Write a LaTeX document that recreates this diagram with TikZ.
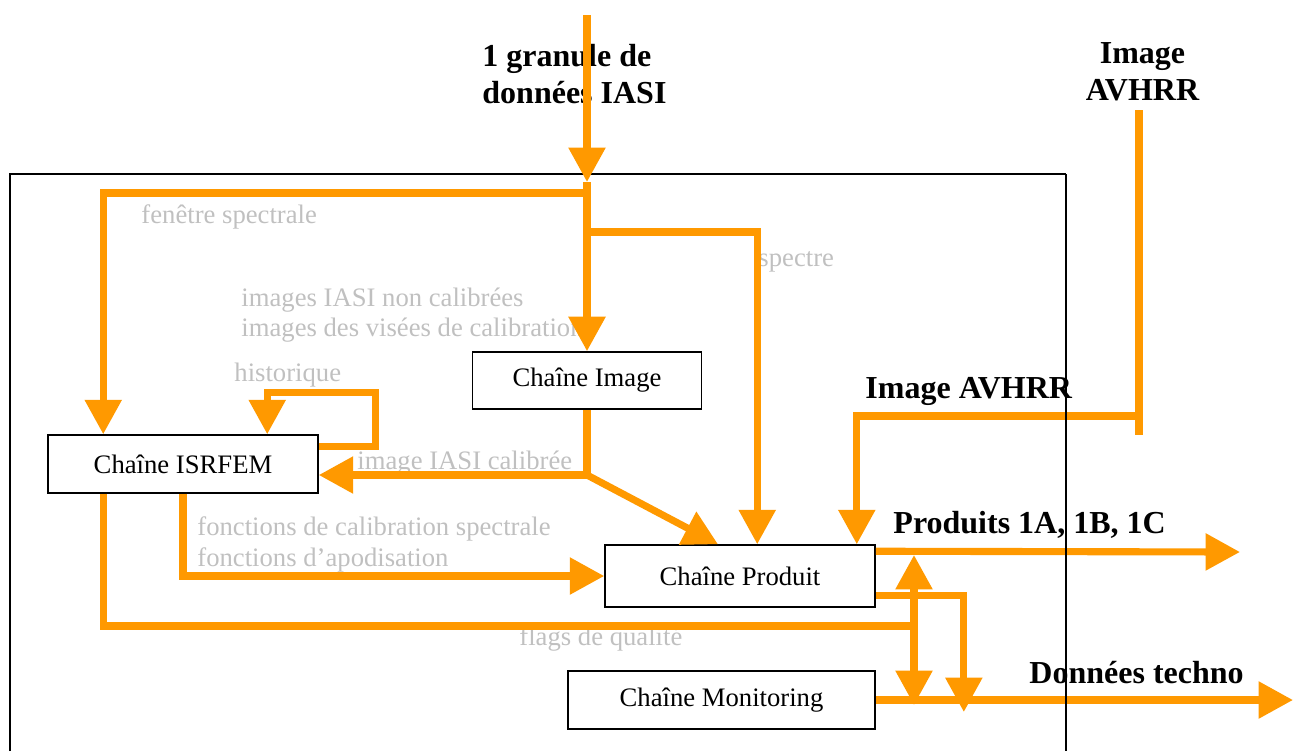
\documentclass[tikz,border=0pt]{standalone}
\usepackage{fontspec}
\setmainfont{Liberation Serif}
\usetikzlibrary{arrows.meta,calc,positioning}
\definecolor{orangeflux}{HTML}{FF9900}
\definecolor{grisinfo}{HTML}{C0C0C0}

\begin{document}
\begin{tikzpicture}[x=0.45pt,y=-0.45pt,
  chaine/.style={rectangle,draw=black,line width=0.7pt,inner sep=0pt,font=\fontsize{12}{14}\selectfont},
  info/.style={inner sep=0pt,align=left,text=grisinfo,font=\fontsize{12}{13.8}\selectfont},
  titre/.style={inner sep=0pt,font=\fontsize{14.4}{16.5}\selectfont\bfseries},
  trait/.style={draw=orangeflux,line width=3.2pt},
  fleche/.style={trait,-{Triangle[length=15.5pt,width=16pt]}}]
\useasboundingbox (0,0) rectangle (1293,751);
\draw[line width=0.7pt] (10,751) |- (1066,174);

% textes
\node[titre,anchor=west,align=left] (granule) at (482,74) {1 granule de\\données IASI};
\node[titre,align=center] (avhrrtitre) at (1142.5,71.5) {Image\\AVHRR};
\node[titre,anchor=base west] (avhrrlabel) at (865,398) {Image AVHRR};
\node[titre,anchor=base west] (produits) at (893,533) {Produits 1A, 1B, 1C};
\node[titre,anchor=base west] (techno) at (1029,683) {Données techno};
\node[info,anchor=base west] (fenetre) at (141,223) {fenêtre spectrale};
\node[info,anchor=base west] (spectre) at (758,266.7) {spectre};
\node[info,anchor=west] (images) at (241,315) {images IASI non calibrées\\images des visées de calibration};
\node[info,anchor=base west] (historique) at (234,381.7) {historique};
\node[info,anchor=base west] (calibree) at (357,469) {image IASI calibrée};
\node[info,anchor=west] (fonctions) at (197,544.5) {fonctions de calibration spectrale\\fonctions d’apodisation};
\node[info,anchor=base west] (flags) at (519,645) {flags de qualité};

% chaines
\node[chaine,minimum width=103pt,minimum height=25.7pt] (img) at (587,380.5) {Chaîne Image};
\node[chaine,minimum width=121.5pt,minimum height=26.1pt] (isrfem) at (183,464) {Chaîne ISRFEM};
\node[chaine,minimum width=121.5pt,minimum height=27.9pt] (produit) at (740,576) {Chaîne Produit};
\node[chaine,minimum width=138.2pt,minimum height=26.1pt] (monitoring) at (721.5,700) {Chaîne Monitoring};

\coordinate (entree) at (587,15);
\coordinate (cadre) at (587,182);
\coordinate (j1) at (587,193);
\coordinate (j2) at (587,232);
\coordinate (j3) at (587,475);
\coordinate (j4) at (914,626);
\coordinate (avhrr) at (1139,110);
\coordinate (avhrrfin) at (1139,435);
\coordinate (j5) at (1139,416);
\coordinate (sortieA) at (1240,552);
\coordinate (sortieB) at (1293,700);

% flux
\draw[fleche] (entree) -- (cadre);
\draw[fleche] (cadre) -- (img.north);
\draw[fleche] (j1) -| ($(isrfem.north west)+(56,0)$);
\draw[fleche] (j2) -| ($(produit.north west)+(153,0)$);
\draw[trait] (img.south) -- (j3);
\draw[fleche] (j3) -- (isrfem.east |- j3);
\draw[fleche] (j3) -- ($(produit.north)+(-22,0)$);
\draw[fleche] ($(isrfem.north east)+(0,12)$) -- ++(57,0) -- ++(0,-54) -| ($(isrfem.north west)+(220,0)$);
\draw[fleche] (isrfem.south) |- (produit.west);
\draw[trait] ($(isrfem.south west)+(56,0)$) |- (j4);
\draw[fleche] (j4) -- ($(j4 |- sortieA)+(0,3)$);
\draw[fleche] (j4) -- ($(j4 |- monitoring.east)+(0,5)$);
\draw[fleche] ($(produit.south east)+(0,-12)$) -| ($(monitoring.east)+(88,12)$);
\draw[fleche] ($(produit.north east)+(0,7)$) -- (sortieA);
\draw[fleche] (monitoring.east) -- (sortieB);
\draw[trait] (avhrr) -- (avhrrfin);
\draw[fleche] (j5) -| ($(produit.north east)+(-19,0)$);

\draw[line width=0.5pt] (1066,174) -- (1066,751);
\end{tikzpicture}
\end{document}
